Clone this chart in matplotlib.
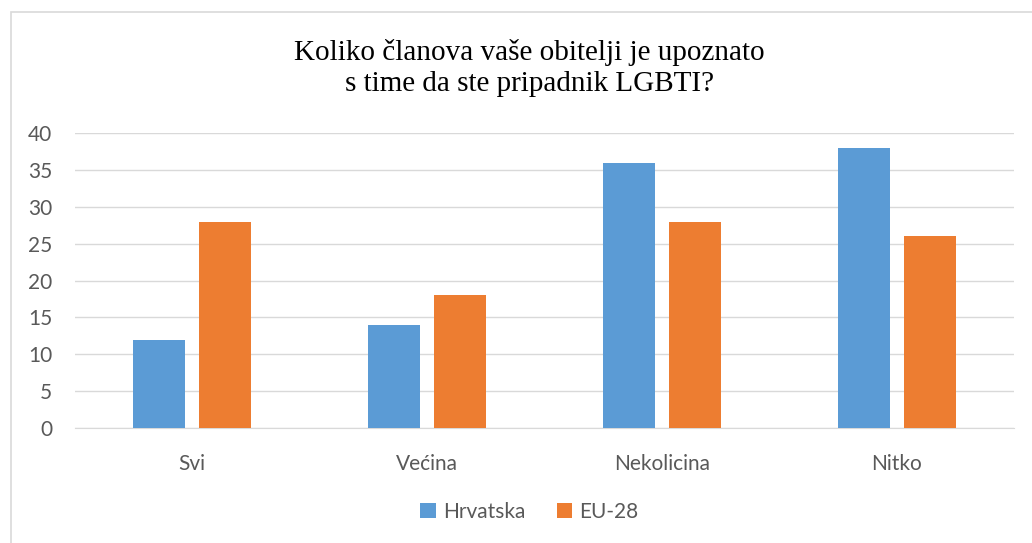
import numpy as np
import matplotlib.pyplot as plt
from matplotlib.patches import Rectangle

categories = ['Svi', 'Većina', 'Nekolicina', 'Nitko']
hrvatska = [12, 14, 36, 38]
eu28 = [28, 18, 28, 26]
series_names = ['Hrvatska', 'EU-28']

blue = '#5B9BD5'
orange = '#ED7D31'
grey_text = '#595959'

fig = plt.figure(figsize=(10.32, 5.43), dpi=100)
ax = fig.add_axes([0.0722, 0.2118, 0.9108, 0.5432])

x = np.arange(len(categories))
w = 0.22
ax.bar(x - 0.14, hrvatska, w, color=blue, label=series_names[0], zorder=3)
ax.bar(x + 0.14, eu28, w, color=orange, label=series_names[1], zorder=3)

ax.set_xlim(-0.5, len(categories) - 0.5)
ax.set_ylim(0, 40)
ax.set_yticks(range(0, 41, 5))
ax.set_xticks(x)
ax.set_xticklabels(categories)
ax.grid(axis='y', color='#D9D9D9', linewidth=1, zorder=0)
for s in ['top', 'right', 'left']:
    ax.spines[s].set_visible(False)
ax.spines['bottom'].set_color('#D9D9D9')
ax.tick_params(axis='both', length=0, labelsize=15, labelcolor=grey_text)
ax.tick_params(axis='y', pad=16)
ax.tick_params(axis='x', pad=19)
for t in ax.get_xticklabels() + ax.get_yticklabels():
    t.set_family('Lato')

fig.text(0.513, 0.875, 'Koliko članova vaše obitelji je upoznato\ns time da ste pripadnik LGBTI?',
         ha='center', va='center', family='Liberation Serif', fontsize=21,
         linespacing=1.27, color='black')

leg = ax.legend(loc='center', bbox_to_anchor=(0.513, 0.058), bbox_transform=fig.transFigure,
                ncol=2, frameon=False, handlelength=0.75, handleheight=0.75,
                handletextpad=0.35, columnspacing=1.5, prop={'family': 'Lato', 'size': 15})
for t in leg.get_texts():
    t.set_color(grey_text)

fig.patches.append(Rectangle((11 / 1032, -0.05), 1.2, 1 - 12 / 543 + 0.05,
                             transform=fig.transFigure, fill=False,
                             edgecolor='#D9D9D9', linewidth=1.2))

plt.savefig('out.png', dpi=100)
